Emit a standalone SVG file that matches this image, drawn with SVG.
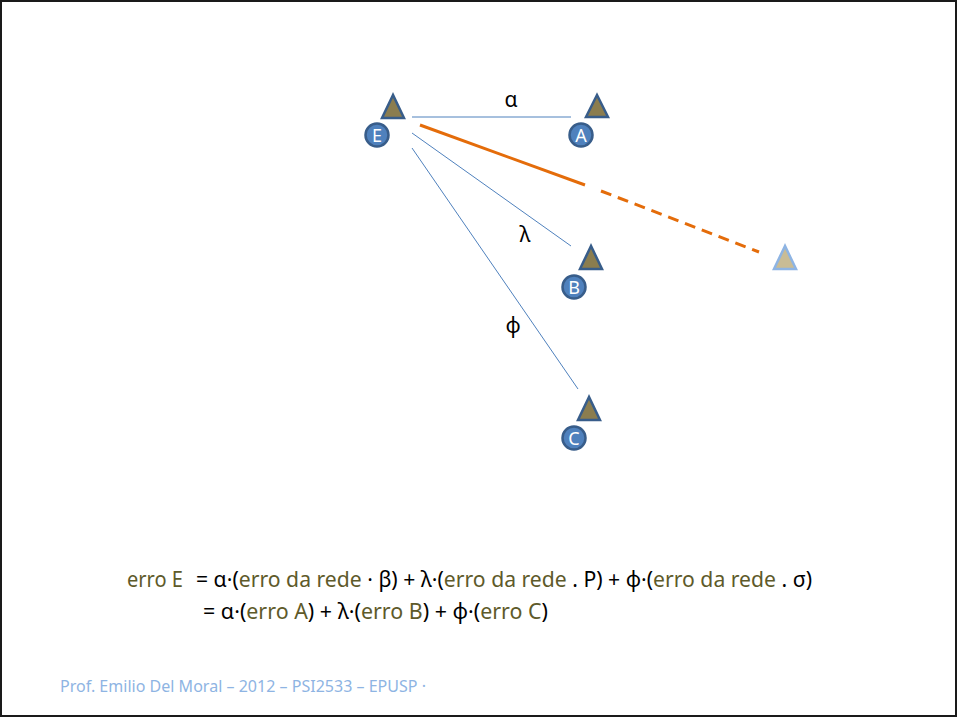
<svg xmlns="http://www.w3.org/2000/svg" width="958" height="718" viewBox="0 0 958 718">
  <style>
    .tri { fill: #8B7D4F; stroke: #385D8A; stroke-width: 2.5; stroke-linejoin: miter; }
    .tri-light { fill: #C9BC95; stroke: #8EB4E3; stroke-width: 2.5; }
    .dot { fill: #4F81BD; stroke: #385D8A; stroke-width: 2.5; }
    .letter { font-family: "Noto Sans", "Open Sans", sans-serif; font-size: 18px; fill: #FFFFFF; text-anchor: middle; }
    .thin { stroke: #4F81BD; stroke-width: 1; fill: none; }
    .orange { stroke: #E46C0A; stroke-width: 3; fill: none; }
    .greek { font-family: "Noto Sans", "Open Sans", sans-serif; font-size: 21px; fill: #000; text-anchor: middle; }
    .eq { font-family: "Noto Sans", "Open Sans", sans-serif; font-size: 21px; fill: #000; }
    .ol { fill: #5E5A2A; }
    .foot { font-family: "Noto Sans", "Open Sans", sans-serif; font-size: 16px; fill: #8EB4E3; }
  </style>
  <rect x="1" y="1" width="955" height="715" fill="#FFFFFF" stroke="#1A1A1A" stroke-width="2"/>

  <g id="connectors">
    <line class="thin" x1="412" y1="117" x2="571" y2="117"/>
    <line class="thin" x1="412" y1="133" x2="571" y2="246"/>
    <line class="thin" x1="412" y1="148" x2="578" y2="389"/>
    <line class="orange" x1="420" y1="125" x2="585" y2="185"/>
    <line class="orange" x1="601" y1="191" x2="759" y2="252" stroke-dasharray="11 7"/>
    <text class="greek" x="511" y="107">α</text>
    <text class="greek" x="525" y="242">λ</text>
    <text class="greek" x="513" y="333">ϕ</text>
  </g>

  <g id="node-E">
    <polygon class="tri" points="393,95 382,118 404,118"/>
    <circle class="dot" cx="377" cy="135" r="11.5"/>
    <text class="letter" x="377" y="141.5">E</text>
  </g>
  <g id="node-A">
    <polygon class="tri" points="597,95 586,117 608,117"/>
    <circle class="dot" cx="581" cy="135" r="11.5"/>
    <text class="letter" x="581" y="141.5">A</text>
  </g>
  <g id="node-B">
    <polygon class="tri" points="591,246 580,269 602,269"/>
    <circle class="dot" cx="574" cy="287" r="11.5"/>
    <text class="letter" x="574" y="293.5">B</text>
  </g>
  <g id="node-C">
    <polygon class="tri" points="589,397 578,420 600,420"/>
    <circle class="dot" cx="574" cy="438" r="11.5"/>
    <text class="letter" x="574" y="444.5">C</text>
  </g>
  <g id="node-target">
    <polygon class="tri-light" points="785,246 774,269 796,269"/>
  </g>

  <g id="equation">
    <text class="eq ol" x="127" y="587" textLength="56" lengthAdjust="spacingAndGlyphs">erro E</text>
    <text class="eq" x="196" y="587" textLength="616" lengthAdjust="spacingAndGlyphs">= α·(<tspan class="ol">erro da rede</tspan> · β) + λ·(<tspan class="ol">erro da rede</tspan> . P) + ϕ·(<tspan class="ol">erro da rede</tspan> . σ)</text>
    <text class="eq" x="203" y="619" textLength="345" lengthAdjust="spacingAndGlyphs">= α·(<tspan class="ol">erro A</tspan>) + λ·(<tspan class="ol">erro B</tspan>) + ϕ·(<tspan class="ol">erro C</tspan>)</text>
  </g>

  <text class="foot" x="60" y="692" textLength="366" lengthAdjust="spacingAndGlyphs">Prof. Emilio Del Moral – 2012 – PSI2533 – EPUSP ·</text>
</svg>
